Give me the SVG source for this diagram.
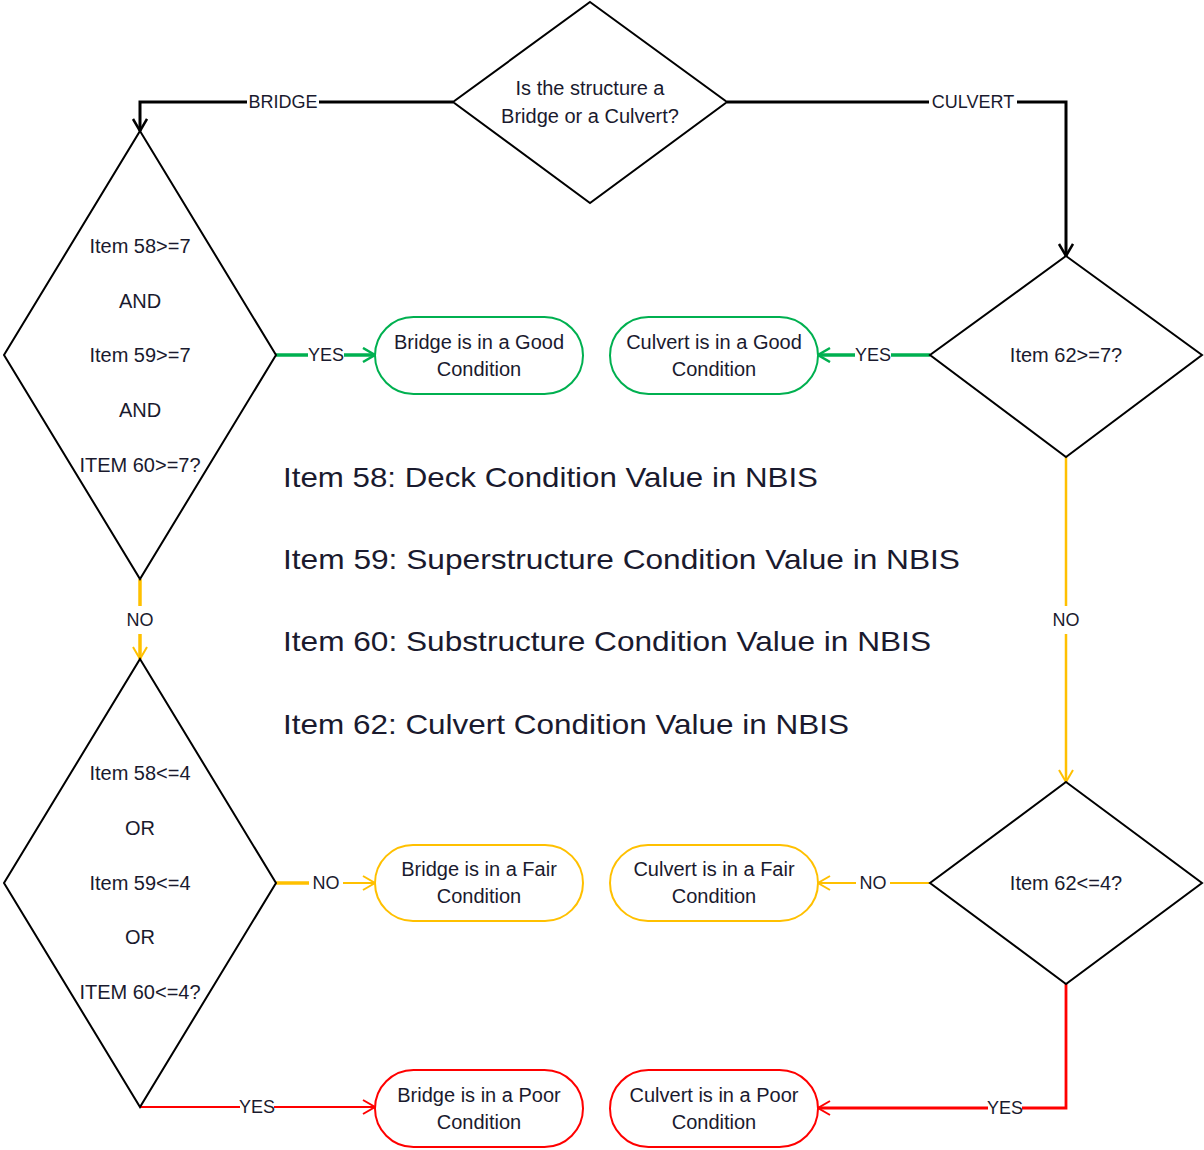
<svg xmlns="http://www.w3.org/2000/svg" width="1204" height="1150" viewBox="0 0 1204 1150">
<style>
  text { font-family: "Liberation Sans", Arial, sans-serif; fill: #1a1a2e; }
  .node { fill: #fff; stroke: #000; stroke-width: 2; }
  .t { font-size: 20px; text-anchor: middle; dominant-baseline: central; }
  .lbl { font-size: 18px; text-anchor: middle; dominant-baseline: central; }
  .leg { font-size: 28px; dominant-baseline: central; }
  .good { fill: #fff; stroke: #00B050; stroke-width: 2; }
  .fair { fill: #fff; stroke: #FFC000; stroke-width: 2; }
  .poor { fill: #fff; stroke: #FF0000; stroke-width: 2; }
  .c { fill: none; }
  .bg { fill: #fff; }
</style>
<defs>
  <marker id="aK" markerUnits="userSpaceOnUse" markerWidth="16" markerHeight="18" refX="13" refY="8" orient="auto">
    <path d="M1,1 L13,8 L1,15" fill="none" stroke="#000" stroke-width="2.5"/>
  </marker>
  <marker id="aG" markerUnits="userSpaceOnUse" markerWidth="16" markerHeight="18" refX="13" refY="8" orient="auto">
    <path d="M1,1 L13,8 L1,15" fill="none" stroke="#00B050" stroke-width="2.5"/>
  </marker>
  <marker id="aY" markerUnits="userSpaceOnUse" markerWidth="16" markerHeight="18" refX="13" refY="8" orient="auto">
    <path d="M1,1 L13,8 L1,15" fill="none" stroke="#FFC000" stroke-width="2"/>
  </marker>
  <marker id="aR" markerUnits="userSpaceOnUse" markerWidth="16" markerHeight="18" refX="13" refY="8" orient="auto">
    <path d="M1,1 L13,8 L1,15" fill="none" stroke="#FF0000" stroke-width="2"/>
  </marker>
</defs>
<rect width="1204" height="1150" fill="#fff"/>

<g id="connectors">
  <path class="c" d="M453,102 H140 V131" stroke="#000" stroke-width="3" marker-end="url(#aK)"/>
  <rect class="bg" x="247" y="90" width="72" height="24"/>
  <text class="lbl" x="283" y="102">BRIDGE</text>

  <path class="c" d="M727,102 H1066 V256" stroke="#000" stroke-width="3" marker-end="url(#aK)"/>
  <rect class="bg" x="929" y="90" width="88" height="24"/>
  <text class="lbl" x="973" y="102">CULVERT</text>

  <path class="c" d="M276,355 H375" stroke="#00B050" stroke-width="3.5" marker-end="url(#aG)"/>
  <rect class="bg" x="308" y="343" width="36" height="24"/>
  <text class="lbl" x="326" y="355">YES</text>

  <path class="c" d="M930,355 H818" stroke="#00B050" stroke-width="3.5" marker-end="url(#aG)"/>
  <rect class="bg" x="855" y="343" width="36" height="24"/>
  <text class="lbl" x="873" y="355">YES</text>

  <path class="c" d="M140,579 V659" stroke="#FFC000" stroke-width="3.5" marker-end="url(#aY)"/>
  <rect class="bg" x="122" y="606" width="36" height="28"/>
  <text class="lbl" x="140" y="620">NO</text>

  <path class="c" d="M1066,457 V782" stroke="#FFC000" stroke-width="2.5" marker-end="url(#aY)"/>
  <rect class="bg" x="1048" y="606" width="36" height="28"/>
  <text class="lbl" x="1066" y="620">NO</text>

  <path class="c" d="M276,883 H310" stroke="#FFC000" stroke-width="3.5"/>
  <path class="c" d="M310,883 H375" stroke="#FFC000" stroke-width="2" marker-end="url(#aY)"/>
  <rect class="bg" x="309" y="871" width="34" height="24"/>
  <text class="lbl" x="326" y="883">NO</text>

  <path class="c" d="M930,883 H818" stroke="#FFC000" stroke-width="2" marker-end="url(#aY)"/>
  <rect class="bg" x="856" y="871" width="34" height="24"/>
  <text class="lbl" x="873" y="883">NO</text>

  <path class="c" d="M140,1107 H375" stroke="#FF0000" stroke-width="1.8" marker-end="url(#aR)"/>
  <rect class="bg" x="240" y="1095" width="34" height="24"/>
  <text class="lbl" x="257" y="1107">YES</text>

  <path class="c" d="M1066,984 V1108 H818" stroke="#FF0000" stroke-width="2.8" marker-end="url(#aR)"/>
  <rect class="bg" x="988" y="1096" width="34" height="24"/>
  <text class="lbl" x="1005" y="1108">YES</text>
</g>

<g id="q-type">
  <polygon class="node" points="590,2 727,102 590,203 453,102"/>
  <text class="t" x="590" y="88">Is the structure a</text>
  <text class="t" x="590" y="116">Bridge or a Culvert?</text>
</g>

<g id="q-bridge-good">
  <polygon class="node" points="140,131 276,355 140,579 4,355"/>
  <text class="t" x="140" y="246">Item 58&gt;=7</text>
  <text class="t" x="140" y="301">AND</text>
  <text class="t" x="140" y="355">Item 59&gt;=7</text>
  <text class="t" x="140" y="410">AND</text>
  <text class="t" x="140" y="465">ITEM 60&gt;=7?</text>
</g>

<g id="q-culvert-good">
  <polygon class="node" points="1066,256 1202,355 1066,457 930,355"/>
  <text class="t" x="1066" y="355">Item 62&gt;=7?</text>
</g>

<g id="q-bridge-poor">
  <polygon class="node" points="140,659 276,883 140,1107 4,883"/>
  <text class="t" x="140" y="773">Item 58&lt;=4</text>
  <text class="t" x="140" y="828">OR</text>
  <text class="t" x="140" y="883">Item 59&lt;=4</text>
  <text class="t" x="140" y="937">OR</text>
  <text class="t" x="140" y="992">ITEM 60&lt;=4?</text>
</g>

<g id="q-culvert-poor">
  <polygon class="node" points="1066,782 1202,883 1066,984 930,883"/>
  <text class="t" x="1066" y="883">Item 62&lt;=4?</text>
</g>

<g id="bridge-good">
  <rect class="good" x="375" y="317" width="208" height="77" rx="38.5"/>
  <text class="t" x="479" y="342">Bridge is in a Good</text>
  <text class="t" x="479" y="369">Condition</text>
</g>
<g id="culvert-good">
  <rect class="good" x="610" y="317" width="208" height="77" rx="38.5"/>
  <text class="t" x="714" y="342">Culvert is in a Good</text>
  <text class="t" x="714" y="369">Condition</text>
</g>
<g id="bridge-fair">
  <rect class="fair" x="375" y="845" width="208" height="76" rx="38"/>
  <text class="t" x="479" y="869">Bridge is in a Fair</text>
  <text class="t" x="479" y="896">Condition</text>
</g>
<g id="culvert-fair">
  <rect class="fair" x="610" y="845" width="208" height="76" rx="38"/>
  <text class="t" x="714" y="869">Culvert is in a Fair</text>
  <text class="t" x="714" y="896">Condition</text>
</g>
<g id="bridge-poor">
  <rect class="poor" x="375" y="1070" width="208" height="77" rx="38.5"/>
  <text class="t" x="479" y="1095">Bridge is in a Poor</text>
  <text class="t" x="479" y="1122">Condition</text>
</g>
<g id="culvert-poor">
  <rect class="poor" x="610" y="1070" width="208" height="77" rx="38.5"/>
  <text class="t" x="714" y="1095">Culvert is in a Poor</text>
  <text class="t" x="714" y="1122">Condition</text>
</g>

<g id="legend">
  <text class="leg" x="283" y="477" textLength="535" lengthAdjust="spacingAndGlyphs">Item 58: Deck Condition Value in NBIS</text>
  <text class="leg" x="283" y="559" textLength="677" lengthAdjust="spacingAndGlyphs">Item 59: Superstructure Condition Value in NBIS</text>
  <text class="leg" x="283" y="641" textLength="648" lengthAdjust="spacingAndGlyphs">Item 60: Substructure Condition Value in NBIS</text>
  <text class="leg" x="283" y="724" textLength="566" lengthAdjust="spacingAndGlyphs">Item 62: Culvert Condition Value in NBIS</text>
</g>
</svg>
